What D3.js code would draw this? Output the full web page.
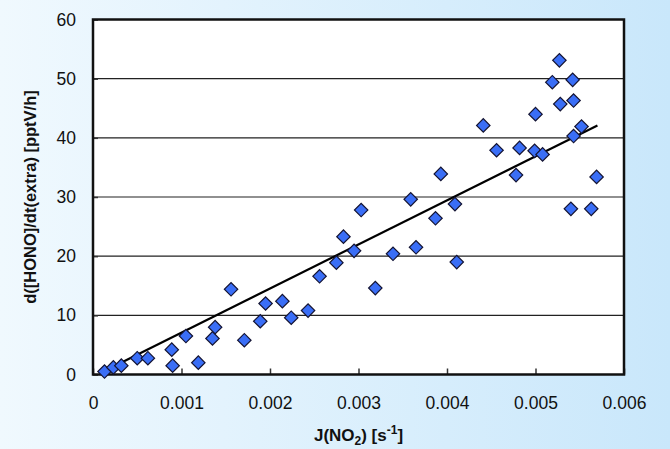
<!DOCTYPE html>
<html>
<head>
<meta charset="utf-8">
<script src="https://cdn.jsdelivr.net/npm/d3@7"></script>
<style>
  body { margin: 0; }
  svg { display: block; }
</style>
</head>
<body>
<svg id="chart" width="670" height="449"></svg>
<script>
// J(NO2) values [s-1]
let jno2 = [0.00013, 0.00023, 0.00032, 0.0005, 0.00062, 0.00089, 0.0009, 0.00105, 0.00119, 0.00135,
            0.00138, 0.00156, 0.00171, 0.00189, 0.00195, 0.00214, 0.00224, 0.00243, 0.00256, 0.00275,
            0.00283, 0.00295, 0.00303, 0.00319, 0.00339, 0.00359, 0.00365, 0.00387, 0.00393, 0.00409,
            0.00411, 0.00441, 0.00456, 0.00478, 0.00482, 0.00499, 0.005, 0.00508, 0.00519, 0.00527,
            0.00528, 0.0054, 0.00542, 0.00543, 0.00543, 0.00552, 0.00563, 0.00569]
// d[HONO]/dt(extra) values [pptV/h]
let hono = [0.5, 1.2, 1.5, 2.75, 2.75, 4.2, 1.5, 6.5, 2.0, 6.1,
            8.0, 14.4, 5.8, 9.0, 12.0, 12.4, 9.6, 10.8, 16.6, 18.9,
            23.3, 20.9, 27.8, 14.6, 20.4, 29.6, 21.5, 26.4, 33.9, 28.8,
            19.0, 42.1, 37.9, 33.7, 38.3, 37.8, 44.0, 37.2, 49.4, 53.1,
            45.7, 28.0, 49.8, 46.3, 40.3, 41.9, 28.0, 33.4]

// linear fit end points
let fitX = [0.00013, 0.0057]
let fitY = [0.6, 42.1]

let xTicks = [0, 0.001, 0.002, 0.003, 0.004, 0.005, 0.006]
let yTicks = [0, 10, 20, 30, 40, 50, 60]

let svg = d3.select('#chart')

let plotL = 93, plotR = 624, plotT = 19.5, plotB = 374.5

let defs = svg.append('defs')
let grad = defs.append('linearGradient')
    .attr('id', 'bg')
    .attr('x1', '0%').attr('x2', '100%')
    .attr('y1', '0%').attr('y2', '0%')
grad.append('stop').attr('offset', '0%').attr('stop-color', '#f0f9fe')
grad.append('stop').attr('offset', '100%').attr('stop-color', '#c9e7fb')

svg.append('rect')
    .attr('width', 670)
    .attr('height', 449)
    .attr('fill', 'url(#bg)')

let xScale = d3.scaleLinear().domain([0, 0.006]).range([plotL, plotR])
let yScale = d3.scaleLinear().domain([0, 60]).range([plotB, plotT])

// plot area
svg.append('rect')
    .attr('x', plotL)
    .attr('y', plotT)
    .attr('width', plotR - plotL)
    .attr('height', plotB - plotT)
    .attr('fill', 'white')

// grid lines
svg.selectAll('.grid')
    .data(yTicks.filter((d) => d > 0 && d < 60))
    .enter()
    .append('line')
    .attr('class', 'grid')
    .attr('x1', plotL)
    .attr('x2', plotR)
    .attr('y1', (d) => yScale(d))
    .attr('y2', (d) => yScale(d))
    .attr('stroke', '#222')
    .attr('stroke-width', 1.2)

// axes with inside ticks
let xAxis = d3.axisBottom(xScale)
    .tickValues(xTicks)
    .tickSizeInner(-6)
    .tickSizeOuter(0)
    .tickPadding(22)
    .tickFormat((d) => d === 0 ? '0' : d3.format('.3f')(d))

let yAxis = d3.axisLeft(yScale)
    .tickValues(yTicks)
    .tickSizeInner(-5)
    .tickSizeOuter(0)
    .tickPadding(17)

let gx = svg.append('g')
    .attr('transform', 'translate(0,' + plotB + ')')
    .call(xAxis)
let gy = svg.append('g')
    .attr('transform', 'translate(' + plotL + ',0)')
    .call(yAxis)

gx.select('.domain').remove()
gy.select('.domain').remove()
svg.selectAll('.tick line').attr('stroke', '#333').attr('stroke-width', 1.5)
svg.selectAll('.tick text')
    .attr('font-family', 'Liberation Sans, Arial, sans-serif')
    .attr('font-size', 17.5)
    .attr('fill', '#111')

// frame
svg.append('rect')
    .attr('x', plotL)
    .attr('y', plotT)
    .attr('width', plotR - plotL)
    .attr('height', plotB - plotT)
    .attr('fill', 'none')
    .attr('stroke', '#111')
    .attr('stroke-width', 2.5)

// fit line
svg.append('line')
    .attr('x1', xScale(fitX[0]))
    .attr('y1', yScale(fitY[0]))
    .attr('x2', xScale(fitX[1]))
    .attr('y2', yScale(fitY[1]))
    .attr('stroke', '#000')
    .attr('stroke-width', 2.2)

// points
let diamond = d3.symbol().type(d3.symbolSquare).size(90)
svg.selectAll('.pt')
    .data(jno2.map((x, i) => [x, hono[i]]))
    .enter()
    .append('path')
    .attr('class', 'pt')
    .attr('d', diamond)
    .attr('transform', (d) => 'translate(' + xScale(d[0]) + ',' + yScale(d[1]) + ') rotate(45)')
    .attr('fill', '#3a6ef6')
    .attr('stroke', '#141433')
    .attr('stroke-width', 1.2)

// axis titles
let xTitle = svg.append('text')
    .attr('x', (plotL + plotR) / 2)
    .attr('y', 441)
    .attr('text-anchor', 'middle')
    .attr('font-family', 'Liberation Sans, Arial, sans-serif')
    .attr('font-weight', 'bold')
    .attr('font-size', 17)
    .attr('fill', '#111')
xTitle.append('tspan').text('J(NO')
xTitle.append('tspan').text('2').attr('font-size', 12).attr('dy', 4)
xTitle.append('tspan').text(') [s').attr('dy', -4)
xTitle.append('tspan').text('-1').attr('font-size', 12).attr('dy', -7)
xTitle.append('tspan').text(']').attr('dy', 7)

svg.append('text')
    .attr('transform', 'translate(36,' + ((plotT + plotB) / 2) + ') rotate(-90)')
    .attr('text-anchor', 'middle')
    .attr('font-family', 'Liberation Sans, Arial, sans-serif')
    .attr('font-weight', 'bold')
    .attr('font-size', 16.5)
    .attr('fill', '#111')
    .text('d([HONO]/dt(extra) [pptV/h]')
</script>
</body>
</html>
